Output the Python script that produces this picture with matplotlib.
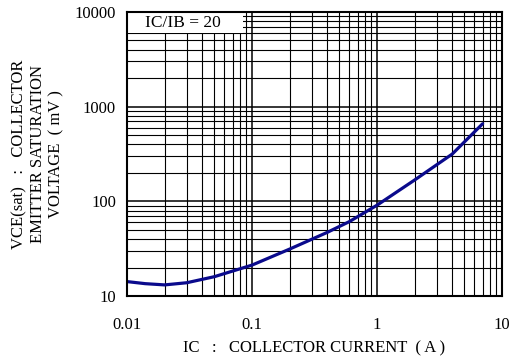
import matplotlib
matplotlib.use("Agg")
import matplotlib.pyplot as plt
from matplotlib.patches import Rectangle
from matplotlib.ticker import LogLocator, FixedLocator, NullFormatter

plt.rcParams['font.family'] = ['Liberation Serif', 'DejaVu Serif']

# data
ic = [0.01, 0.014, 0.02, 0.03, 0.05, 0.1, 0.2, 0.4, 0.6, 1.0, 2.0, 4.0, 7.0]
vce = [14.2, 13.5, 13.1, 13.8, 16.0, 21.2, 31.3, 47.0, 61.0, 91.0, 168.0, 316.0, 660.0]

xticks = [0.01, 0.1, 1, 10]
xlabels = ['0.01', '0.1', '1', '10']
yticks = [10, 100, 1000, 10000]
ylabels = ['10', '100', '1000', '10000']

fig = plt.figure(figsize=(5.13, 3.63), dpi=100)
ax = fig.add_axes([127/513, 1 - 296/363, 375/513, 284/363])

ax.set_xscale('log')
ax.set_yscale('log')
ax.set_xlim(0.01, 10)
ax.set_ylim(10, 10000)

ax.xaxis.set_major_locator(FixedLocator(xticks))
ax.yaxis.set_major_locator(FixedLocator(yticks))
ax.set_xticklabels(xlabels, fontsize=12)
ax.set_yticklabels(ylabels, fontsize=12)
ax.xaxis.set_minor_locator(LogLocator(base=10, subs=range(2, 10)))
ax.yaxis.set_minor_locator(LogLocator(base=10, subs=range(2, 10)))
ax.xaxis.set_minor_formatter(NullFormatter())
ax.yaxis.set_minor_formatter(NullFormatter())
ax.tick_params(which='both', length=0)
ax.tick_params(axis='x', pad=15)
ax.tick_params(axis='y', pad=8)

ax.grid(which='major', color='black', lw=1.1)
ax.grid(which='minor', color='black', lw=0.8)
ax.set_axisbelow(True)
for s in ax.spines.values():
    s.set_linewidth(1.5)

ax.plot(ic, vce, color='#0a0a8c', lw=2.3, solid_capstyle='round')

# white label box in the upper left corner
ax.add_patch(Rectangle((0, 1 - 21/284), 116/375, 21/284, transform=ax.transAxes,
                       facecolor='white', edgecolor='none', zorder=2.5))
ax.text(18/375, 1 - 11/284, 'IC/IB = 20', transform=ax.transAxes, fontsize=12.5,
        va='center', ha='left', zorder=3)

fig.text(314/513, 1 - 348/363, 'IC   :   COLLECTOR CURRENT  ( A )', ha='center', va='center', fontsize=12)
fig.text(38/513, 1 - 154/363, 'VCE(sat)   :   COLLECTOR\nEMITTER SATURATION\nVOLTAGE  ( mV )',
         ha='center', va='center', rotation=90, fontsize=12, linespacing=1.2)

fig.savefig('out.png', dpi=100)
